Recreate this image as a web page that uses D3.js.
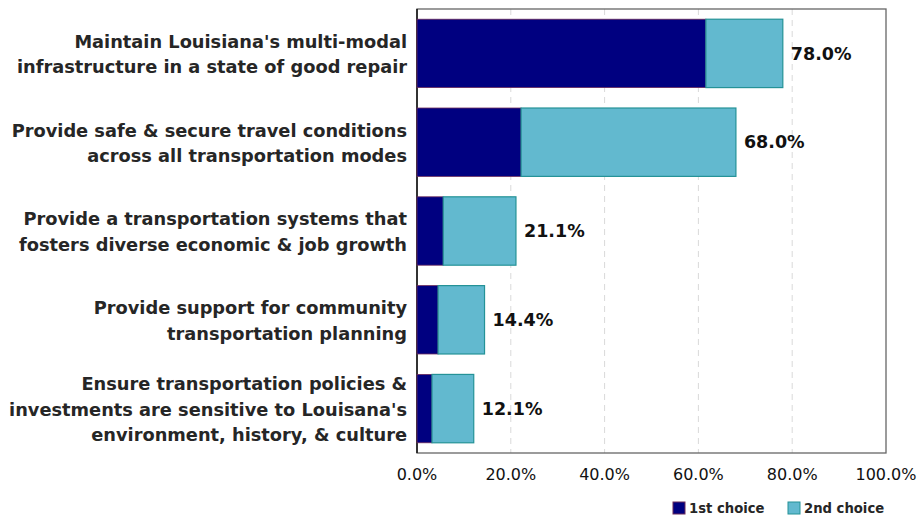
<!DOCTYPE html>
<html><head><meta charset="utf-8">
<script src="https://cdn.jsdelivr.net/npm/d3@7"></script>
<style>body{margin:0;background:#fff}svg{display:block}text{font-family:"DejaVu Sans",sans-serif}</style>
</head><body><svg id="c" width="917" height="516"></svg>
<script>
const categories = [
  ["Maintain Louisiana's multi-modal","infrastructure in a state of good repair"],
  ["Provide safe & secure travel conditions","across all transportation modes"],
  ["Provide a transportation systems that","fosters diverse economic & job growth"],
  ["Provide support for community","transportation planning"],
  ["Ensure transportation policies &","investments are sensitive to Louisana's","environment, history, & culture"]
];
const firstChoice = [61.6, 22.2, 5.6, 4.5, 3.2];
const secondChoice = [16.4, 45.8, 15.5, 9.9, 8.9];
const totalLabels = ["78.0%","68.0%","21.1%","14.4%","12.1%"];
const xTicks = [0,20,40,60,80,100];
const seriesNames = ["1st choice","2nd choice"];

const svg = d3.select("#c");
const L=417, R=886, T=9, B=453;
const x = d3.scaleLinear().domain([0,100]).range([L,R]);
const y = d3.scaleBand().domain(d3.range(categories.length)).range([T,B]).paddingInner(0.23).paddingOuter(0.115);

// gridlines
svg.append("g").selectAll("line").data(xTicks.slice(1,-1)).join("line")
  .attr("x1",d=>x(d)).attr("x2",d=>x(d)).attr("y1",T).attr("y2",B)
  .attr("stroke","#d9d9d9").attr("stroke-dasharray","6,5").attr("stroke-width",1);

// frame
svg.append("rect").attr("x",L).attr("y",T).attr("width",R-L).attr("height",B-T)
  .attr("fill","none").attr("stroke","#666").attr("stroke-width",1.3);
svg.append("line").attr("x1",L).attr("x2",L).attr("y1",T).attr("y2",B).attr("stroke","#111").attr("stroke-width",1.5);

const g = svg.append("g");
categories.forEach((c,i)=>{
  g.append("rect").attr("x",x(0)).attr("y",y(i)).attr("width",x(firstChoice[i])-x(0)).attr("height",y.bandwidth())
    .attr("fill","#000080").attr("stroke","#6b2a5a").attr("stroke-width",0.8);
  g.append("rect").attr("x",x(firstChoice[i])).attr("y",y(i)).attr("width",x(firstChoice[i]+secondChoice[i])-x(firstChoice[i])).attr("height",y.bandwidth())
    .attr("fill","#62b9cf").attr("stroke","#249297").attr("stroke-width",1.2);
  g.append("text").attr("x",x(firstChoice[i]+secondChoice[i])+8).attr("y",y(i)+y.bandwidth()/2).attr("dy","0.35em")
    .attr("font-size",17.5).attr("font-weight","bold").attr("fill","#111").text(totalLabels[i]);
  const n=c.length, lh=25.5, cy=y(i)+y.bandwidth()/2+1;
  const t=g.append("text").attr("text-anchor","end").attr("font-size",17.8).attr("font-weight","bold").attr("fill","#262626");
  c.forEach((line,j)=>{
    t.append("tspan").attr("x",407).attr("y",cy+(j-(n-1)/2)*lh).attr("dy","0.35em").text(line);
  });
});

// x axis labels
svg.append("g").selectAll("text").data(xTicks).join("text")
  .attr("x",d=>x(d)).attr("y",474).attr("dy","0.35em").attr("text-anchor","middle")
  .attr("font-size",16).attr("fill","#111").text(d=>d3.format(".1f")(d)+"%");

// legend
const lg = svg.append("g");
const lx=[673,788], cols=["#000080","#62b9cf"], strokes=["#6b2a5a","#249297"];
seriesNames.forEach((s,i)=>{
  lg.append("rect").attr("x",lx[i]).attr("y",502).attr("width",12).attr("height",12).attr("fill",cols[i]).attr("stroke",strokes[i]);
  lg.append("text").attr("x",lx[i]+16).attr("y",508).attr("dy","0.35em").attr("font-size",13.2).attr("font-weight","bold").attr("fill","#262626").text(s);
});
</script></body></html>
